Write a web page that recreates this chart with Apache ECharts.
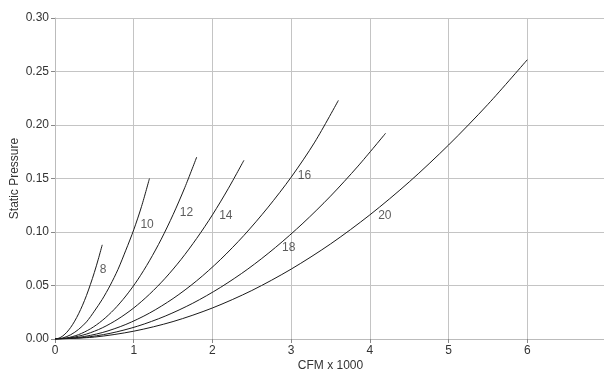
<!DOCTYPE html>
<html>
<head>
<meta charset="utf-8">
<script src="https://cdn.jsdelivr.net/npm/echarts@6/dist/echarts.min.js"></script>
<style>html,body{margin:0;padding:0;background:#fff;overflow:hidden}#c{width:604px;height:375px}</style>
</head>
<body>
<div id="c"></div>
<script>
// Duct sizes
const sizes = ['8', '10', '12', '14', '16', '18', '20'];
// CFM x 1000 (q) and static pressure (p)
const q8  = [0, 0.05, 0.1, 0.15, 0.2, 0.25, 0.3, 0.35, 0.4, 0.45, 0.5, 0.55, 0.6];
const p8  = [0, 0.0008, 0.0029, 0.0063, 0.0109, 0.0167, 0.0236, 0.0316, 0.0407, 0.0510, 0.0622, 0.0746, 0.088];
const q10 = [0, 0.1, 0.2, 0.3, 0.4, 0.5, 0.6, 0.7, 0.8, 0.9, 1.0, 1.1, 1.2];
const p10 = [0, 0.001, 0.004, 0.009, 0.016, 0.026, 0.037, 0.050, 0.065, 0.083, 0.102, 0.124, 0.150];
const q12 = [0, 0.15, 0.3, 0.45, 0.6, 0.75, 0.9, 1.05, 1.2, 1.35, 1.5, 1.65, 1.8];
const p12 = [0, 0.001, 0.0041, 0.0095, 0.0173, 0.0275, 0.0402, 0.0553, 0.0731, 0.0933, 0.1162, 0.1417, 0.170];
const q14 = [0, 0.2, 0.4, 0.6, 0.8, 1.0, 1.2, 1.4, 1.6, 1.8, 2.0, 2.2, 2.4];
const p14 = [0, 0.0012, 0.0046, 0.0104, 0.0186, 0.029, 0.0418, 0.0568, 0.0742, 0.094, 0.116, 0.1404, 0.167];
const q16 = [0, 0.3, 0.6, 0.9, 1.2, 1.5, 1.8, 2.1, 2.4, 2.7, 3.0, 3.3, 3.6];
const p16 = [0, 0.0015, 0.006, 0.0136, 0.0242, 0.0378, 0.0544, 0.0741, 0.0968, 0.1225, 0.1512, 0.184, 0.223];
const q18 = [0, 0.35, 0.7, 1.05, 1.4, 1.75, 2.1, 2.45, 2.8, 3.15, 3.5, 3.85, 4.2];
const p18 = [0, 0.0013, 0.0053, 0.012, 0.0214, 0.0334, 0.0481, 0.0654, 0.0855, 0.1082, 0.1335, 0.1616, 0.1923];
const q20 = [0, 0.5, 1, 1.5, 2, 2.5, 3, 3.5, 4, 4.5, 5, 5.5, 6];
const p20 = [0, 0.0018, 0.0073, 0.0163, 0.029, 0.0453, 0.0653, 0.0888, 0.116, 0.1468, 0.1813, 0.2193, 0.261];
// Curve label anchor points (data coords)
const labelQ = [0.61, 1.17, 1.67, 2.17, 3.17, 2.97, 4.19];
const labelP = [0.0645, 0.1065, 0.1184, 0.115, 0.153, 0.0853, 0.115];
// Tick labels
const xTicks = [0, 1, 2, 3, 4, 5, 6];
const yTicks = [0, 0.05, 0.10, 0.15, 0.20, 0.25, 0.30];

const qs = [q8, q10, q12, q14, q16, q18, q20];
const ps = [p8, p10, p12, p14, p16, p18, p20];
const FONT = 'Liberation Sans, Arial, sans-serif';

const lineSeries = sizes.map((s, i) => ({
  name: s,
  type: 'line',
  smooth: 0.3,
  symbol: 'none',
  lineStyle: { color: '#1a1a1a', width: 1 },
  data: qs[i].map((q, j) => [q, ps[i][j]]),
  silent: true,
  z: 3
}));

const labelSeries = {
  type: 'scatter',
  symbolSize: 0,
  silent: true,
  data: sizes.map((s, i) => ({ name: s, value: [labelQ[i], labelP[i]] })),
  label: {
    show: true,
    position: 'inside',
    formatter: p => p.name,
    color: '#333',
    fontSize: 12,
    fontFamily: FONT
  },
  z: 4
};

const chart = echarts.init(document.getElementById('c'), null, { renderer: 'canvas' });
chart.setOption({
  animation: false,
  backgroundColor: '#fff',
  grid: { left: 55, top: 18, width: 551, height: 321, containLabel: false, outerBoundsMode: 'none' },
  xAxis: {
    type: 'value',
    min: 0, max: 7, interval: 1,
    name: 'CFM x 1000',
    nameLocation: 'middle',
    nameGap: 21,
    nameMoveOverlap: false,
    nameTextStyle: { color: '#333', fontSize: 12, fontFamily: FONT },
    axisLine: { show: true, lineStyle: { color: '#bbb', width: 1 } },
    axisTick: { show: true, length: 4, lineStyle: { color: '#888' } },
    axisLabel: {
      color: '#333', fontSize: 12, margin: 6,
      fontFamily: FONT,
      showMaxLabel: false,
      formatter: v => xTicks.includes(v) ? String(v) : ''
    },
    splitLine: { show: true, lineStyle: { color: '#c4c4c4', width: 1 } }
  },
  yAxis: {
    type: 'value',
    min: 0, max: 0.30, interval: 0.05,
    name: 'Static Pressure',
    nameLocation: 'middle',
    nameGap: 34,
    nameMoveOverlap: false,
    nameTextStyle: { color: '#333', fontSize: 12, fontFamily: FONT },
    axisLine: { show: true, lineStyle: { color: '#bbb', width: 1 } },
    axisTick: { show: true, length: 4, lineStyle: { color: '#888' } },
    axisLabel: {
      color: '#333', fontSize: 12, margin: 6,
      fontFamily: FONT,
      formatter: v => {
        const t = yTicks.find(y => Math.abs(y - v) < 1e-9);
        return t === undefined ? '' : t.toFixed(2);
      }
    },
    splitLine: { show: true, lineStyle: { color: '#c4c4c4', width: 1 } }
  },
  series: [...lineSeries, labelSeries]
});
</script>
</body>
</html>
